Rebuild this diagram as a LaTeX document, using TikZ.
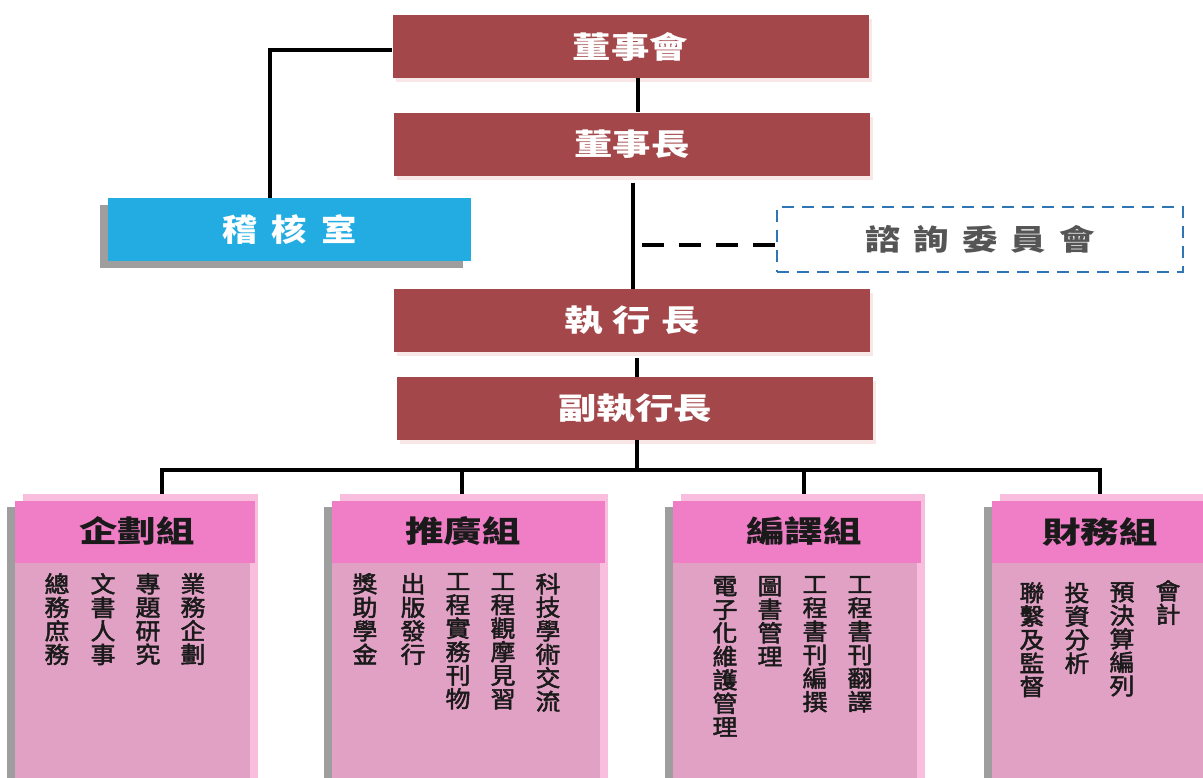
\documentclass[tikz,border=0pt]{standalone}
\usepackage{fontspec}
\usetikzlibrary{shadows}
\newfontfamily\cjkwide[FakeStretch=1.28]{Noto Sans CJK TC}
\newfontfamily\cjkmid[FakeStretch=1.14]{Noto Sans CJK TC}
\newfontfamily\cjkadv[FakeStretch=1.22]{Noto Sans CJK TC}
\newfontfamily\cjkbody[FakeBold=2.2,FakeStretch=1.08]{Noto Sans CJK TC}
\definecolor{boxred}{HTML}{A3474A}
\definecolor{redglow}{HTML}{F9E6E6}
\definecolor{audblue}{HTML}{22ACE2}
\definecolor{shgray}{HTML}{9E9E9E}
\definecolor{advblue}{HTML}{2E75B6}
\definecolor{advtext}{HTML}{555555}
\definecolor{hdpink}{HTML}{EF7EC7}
\definecolor{bdpink}{HTML}{E1A1C4}
\definecolor{ltpink}{HTML}{F9BEDD}
\definecolor{inktext}{HTML}{1A1A1A}
\tikzset{
  redbox/.style={rectangle, fill=boxred, inner sep=0pt, minimum width=476pt, minimum height=63pt,
    text=white, font=\cjkwide\bfseries\fontsize{30}{30}\selectfont,
    general shadow={fill=redglow, shadow xshift=3pt, shadow yshift=-4pt}},
  audbox/.style={rectangle, fill=audblue, inner sep=0pt, minimum width=363pt, minimum height=63pt,
    text=white, font=\cjkmid\bfseries\fontsize{31}{31}\selectfont,
    general shadow={fill=shgray, shadow xshift=-8pt, shadow yshift=-7pt}},
  advbox/.style={rectangle, draw=advblue, line width=2.5pt, dash pattern=on 12pt off 8pt,
    inner sep=0pt, minimum width=406pt, minimum height=65pt,
    text=advtext, font=\cjkadv\bfseries\fontsize{29}{29}\selectfont},
  grpbody/.style={rectangle, fill=bdpink, inner sep=0pt, minimum height=290pt, anchor=north west,
    general shadow={fill=ltpink, shadow xshift=8pt, shadow yshift=7pt},
    general shadow={fill=shgray, shadow xshift=-8pt, shadow yshift=-6pt}},
  grphead/.style={rectangle, fill=hdpink, inner sep=0pt, minimum height=62pt, anchor=north west},
  grptitle/.style={inner sep=0pt, text=inktext, font=\cjkwide\bfseries\fontsize{30}{30}\selectfont},
  colx/.style={inner sep=0pt, anchor=north, align=center, text=inktext,
    font=\cjkbody\fontsize{23}{23.5}\selectfont},
  conn/.style={line width=3.5pt, black},
}
\begin{document}
\begin{tikzpicture}[x=1pt,y=-1pt]
\useasboundingbox (0,0) rectangle (1203,777);
\fill[white] (0,0) rectangle (1203,777);

% upper boxes
\node[redbox] (hb) at (630.5,46.5) {董事會};
\node[redbox] (chair) at (632,144) {董事長};
\node[redbox] (ceo) at (632,320.5) {執\hspace{10pt}行\hspace{10pt}長};
\node[redbox] (vceo) at (635,408.5) {副執行長};
\node[audbox] (audit) at (289.5,229.5) {稽\hspace{14pt}核\hspace{14pt}室};
\node[advbox] (adv) at (980,239.5) {諮\hspace{13pt}詢\hspace{13pt}委\hspace{13pt}員\hspace{13pt}會};

% group boxes
\node[grpbody, minimum width=235pt] (plan) at (15,501) {};
\node[grphead, minimum width=240pt] (planh) at (15,501) {};
\node[grptitle] (plant) at (137,531) {企劃組};

\node[grpbody, minimum width=268pt] (promo) at (332,501) {};
\node[grphead, minimum width=273pt] (promoh) at (332,501) {};
\node[grptitle] (promot) at (463,531) {推廣組};

\node[grpbody, minimum width=244pt] (edit) at (673,501) {};
\node[grphead, minimum width=248pt] (edith) at (673,501) {};
\node[grptitle] (editt) at (804,531) {編譯組};

\node[grpbody, minimum width=223pt] (fin) at (992,501) {};
\node[grphead, minimum width=228pt] (finh) at (992,501) {};
\node[grptitle] (fint) at (1100,532) {財務組};

% columns
\node[colx] (p1) at (57,573) {總\\務\\庶\\務};
\node[colx] (p2) at (103,573) {文\\書\\人\\事};
\node[colx] (p3) at (148,573) {專\\題\\研\\究};
\node[colx] (p4) at (193,573) {業\\務\\企\\劃};

\node[colx] (r1) at (365,573) {獎\\助\\學\\金};
\node[colx] (r2) at (413,573) {出\\版\\發\\行};
\node[colx] (r3) at (458,573) {工\\程\\實\\務\\刊\\物};
\node[colx] (r4) at (503,573) {工\\程\\觀\\摩\\見\\習};
\node[colx] (r5) at (548,573) {科\\技\\學\\術\\交\\流};

\node[colx] (e1) at (725,576) {電\\子\\化\\維\\護\\管\\理};
\node[colx] (e2) at (770,576) {圖\\書\\管\\理};
\node[colx] (e3) at (815,576) {工\\程\\書\\刊\\編\\撰};
\node[colx] (e4) at (860,576) {工\\程\\書\\刊\\翻\\譯};

\node[colx] (f1) at (1032,582) {聯\\繫\\及\\監\\督};
\node[colx] (f2) at (1077,582) {投\\資\\分\\析};
\node[colx] (f3) at (1122,582) {預\\決\\算\\編\\列};
\node[colx] (f4) at (1168,580) {會\\計};

% connectors
\draw[conn] ([xshift=7.5pt]hb.south) -- ([xshift=6pt]chair.north);
\draw[conn] ([xshift=1pt,yshift=-7pt]chair.south) -- ([xshift=1pt]ceo.north);
\draw[conn] ([xshift=5pt,yshift=-6pt]ceo.south) -- ([xshift=2pt]vceo.north);
\draw[conn] ([yshift=-3.5pt]hb.west) -| ([xshift=-19.5pt]audit.north);

\coordinate (dj) at (642,245);
\draw[line width=4pt, black, dash pattern=on 22pt off 15pt] (dj) -- (dj -| adv.west);

\coordinate (b1) at (162,470);
\coordinate (b2) at (462,470);
\coordinate (b3) at (804,470);
\coordinate (b4) at (1100,470);
\draw[conn] ([xshift=2pt]vceo.south) -- ([xshift=2pt]vceo.south |- b1);
\draw[conn] ([xshift=-1.75pt]b1) -- ([xshift=1.75pt]b4);
\draw[conn] (b1) -- ([yshift=7pt]b1 |- planh.north);
\draw[conn] (b2) -- ([yshift=7pt]b2 |- promoh.north);
\draw[conn] (b3) -- ([yshift=7pt]b3 |- edith.north);
\draw[conn] (b4) -- ([yshift=7pt]b4 |- finh.north);
\end{tikzpicture}
\end{document}
